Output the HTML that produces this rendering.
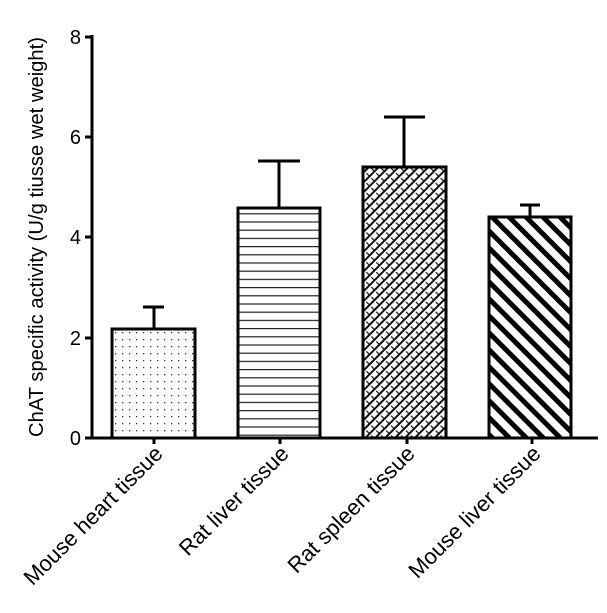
<!DOCTYPE html>
<html><head><style>body{margin:0;background:#fff}</style></head><body>
<svg width="607" height="608" xmlns="http://www.w3.org/2000/svg" font-family="Liberation Sans, Arial, sans-serif">
<defs>
<pattern id="dots" width="7" height="7" patternUnits="userSpaceOnUse"><rect x="3" y="3" width="1.3" height="1.3" fill="#333"/></pattern>
<pattern id="hl" width="8" height="8.2" patternUnits="userSpaceOnUse"><rect y="0" width="8" height="1.2" fill="#222"/></pattern>
<pattern id="weave" width="7" height="7" patternUnits="userSpaceOnUse" patternTransform="rotate(-45)"><rect width="7" height="2" fill="#111"/><rect x="3" y="3.5" width="1.2" height="3.5" fill="#111"/></pattern>
<pattern id="diag" width="12" height="12" patternUnits="userSpaceOnUse" patternTransform="rotate(-45)"><rect width="5" height="12" fill="#000"/></pattern>
</defs>
<g stroke="#000" stroke-width="3" fill="none">
<line x1="92" y1="35" x2="92" y2="439.5"/>
<line x1="90.5" y1="438" x2="598" y2="438"/>
<line x1="85" y1="37" x2="92" y2="37"/>
<line x1="85" y1="137" x2="92" y2="137"/>
<line x1="85" y1="237" x2="92" y2="237"/>
<line x1="85" y1="338" x2="92" y2="338"/>
<line x1="85" y1="438" x2="92" y2="438"/>
<line x1="154" y1="438" x2="154" y2="444"/>
<line x1="280" y1="438" x2="280" y2="444"/>
<line x1="407" y1="438" x2="407" y2="444"/>
<line x1="532" y1="438" x2="532" y2="444"/>
<line x1="154" y1="329" x2="154" y2="307"/><line x1="143" y1="307" x2="164" y2="307"/>
<line x1="279" y1="208" x2="279" y2="161"/><line x1="258" y1="161" x2="300" y2="161"/>
<line x1="404" y1="167" x2="404" y2="117"/><line x1="384" y1="117" x2="425" y2="117"/>
<line x1="530" y1="217" x2="530" y2="205"/><line x1="520" y1="205" x2="540" y2="205"/>
</g>
<g stroke="#000" stroke-width="3">
<rect x="112" y="329" width="83" height="109" fill="url(#dots)"/>
<rect x="238" y="208" width="82" height="230" fill="url(#hl)"/>
<rect x="363" y="167" width="83" height="271" fill="url(#weave)"/>
<rect x="489" y="217" width="82" height="221" fill="url(#diag)"/>
</g>
<g font-size="20" fill="#000" text-anchor="end">
<text x="81" y="44">8</text>
<text x="81" y="144">6</text>
<text x="81" y="244">4</text>
<text x="81" y="345">2</text>
<text x="81" y="445">0</text>
</g>
<text transform="translate(43,237) rotate(-90)" font-size="20" text-anchor="middle" textLength="400" lengthAdjust="spacingAndGlyphs">ChAT specific activity (U/g tiusse wet weight)</text>
<g font-size="22" text-anchor="end">
<text transform="translate(164,455) rotate(-45)">Mouse heart tissue</text>
<text transform="translate(290,455) rotate(-45)">Rat liver tissue</text>
<text transform="translate(416,455) rotate(-45)">Rat spleen tissue</text>
<text transform="translate(542,455) rotate(-45)">Mouse liver tissue</text>
</g>
</svg>
</body></html>
